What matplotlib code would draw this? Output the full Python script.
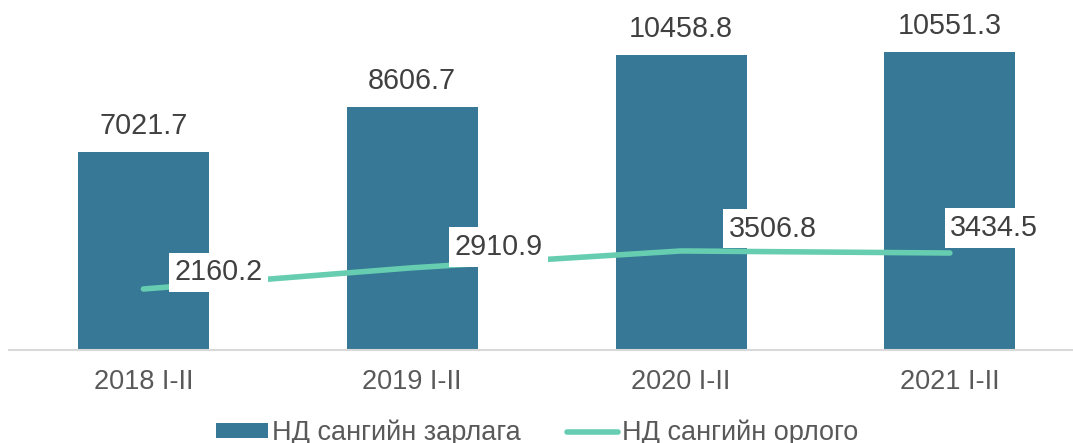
import matplotlib
matplotlib.use("Agg")
import matplotlib.pyplot as plt
from matplotlib.lines import Line2D
from matplotlib.patches import Patch

categories = ["2018 I-II", "2019 I-II", "2020 I-II", "2021 I-II"]
expenditure = [7021.7, 8606.7, 10458.8, 10551.3]
revenue = [2160.2, 2910.9, 3506.8, 3434.5]
bar_name = "НД сангийн зарлага"
line_name = "НД сангийн орлого"

# label offsets (points) for line labels
line_label_offsets = [(54, 12), (62, 15), (66, 16), (32, 18)]

plt.rcParams['font.family'] = ['Liberation Sans', 'DejaVu Sans']

BAR_C = "#367895"
LINE_C = "#66CDB0"
TXT_C = "#404040"
TICK_C = "#595959"

fig = plt.figure(figsize=(10.73, 4.43), dpi=100)
W, H = 1073, 443
ax = fig.add_axes([9 / W, 93 / H, (W - 9) / W, 350 / H])

x = list(range(len(categories)))
ax.bar(x, expenditure, width=0.487, color=BAR_C, zorder=2)
ax.plot(x, revenue, color=LINE_C, lw=4, solid_capstyle='round', solid_joinstyle='round', zorder=3)

ax.set_xlim(-0.5, 3.458)
ax.set_ylim(0, 350 / 0.02824)

for xi, v in zip(x, expenditure):
    ax.annotate(f"{v:.1f}", (xi, v), xytext=(0, 8.5), textcoords='offset points',
                ha='center', va='bottom', fontsize=20.7, color=TXT_C, zorder=5)

for xi, v, (dx, dy) in zip(x, revenue, line_label_offsets):
    ax.annotate(f"{v:.1f}", (xi, v), xytext=(dx, dy), textcoords='offset points',
                ha='center', va='center', fontsize=20.7, color=TXT_C, zorder=5,
                bbox=dict(boxstyle='square,pad=0.2', fc='white', ec='none'))

for s in ['top', 'right', 'left']:
    ax.spines[s].set_visible(False)
ax.spines['bottom'].set_color('#d9d9d9')
ax.spines['bottom'].set_linewidth(1.5)
ax.set_yticks([])
ax.set_xticks(x)
ax.set_xticklabels(categories, fontsize=19.5, color=TICK_C)
ax.tick_params(axis='x', length=0, pad=14)

handles = [Patch(facecolor=BAR_C, edgecolor='none'),
           Line2D([0], [0], color=LINE_C, lw=4, solid_capstyle='round')]
fig.legend(handles, [bar_name, line_name], loc='center',
           bbox_to_anchor=(537.5 / W, (H - 433) / H), ncol=2, frameon=False,
           fontsize=19.5, labelcolor=TICK_C, handlelength=1.9, handleheight=0.5,
           handletextpad=0.15, columnspacing=1.7, borderpad=0, borderaxespad=0)

fig.savefig("out.png", dpi=100)
